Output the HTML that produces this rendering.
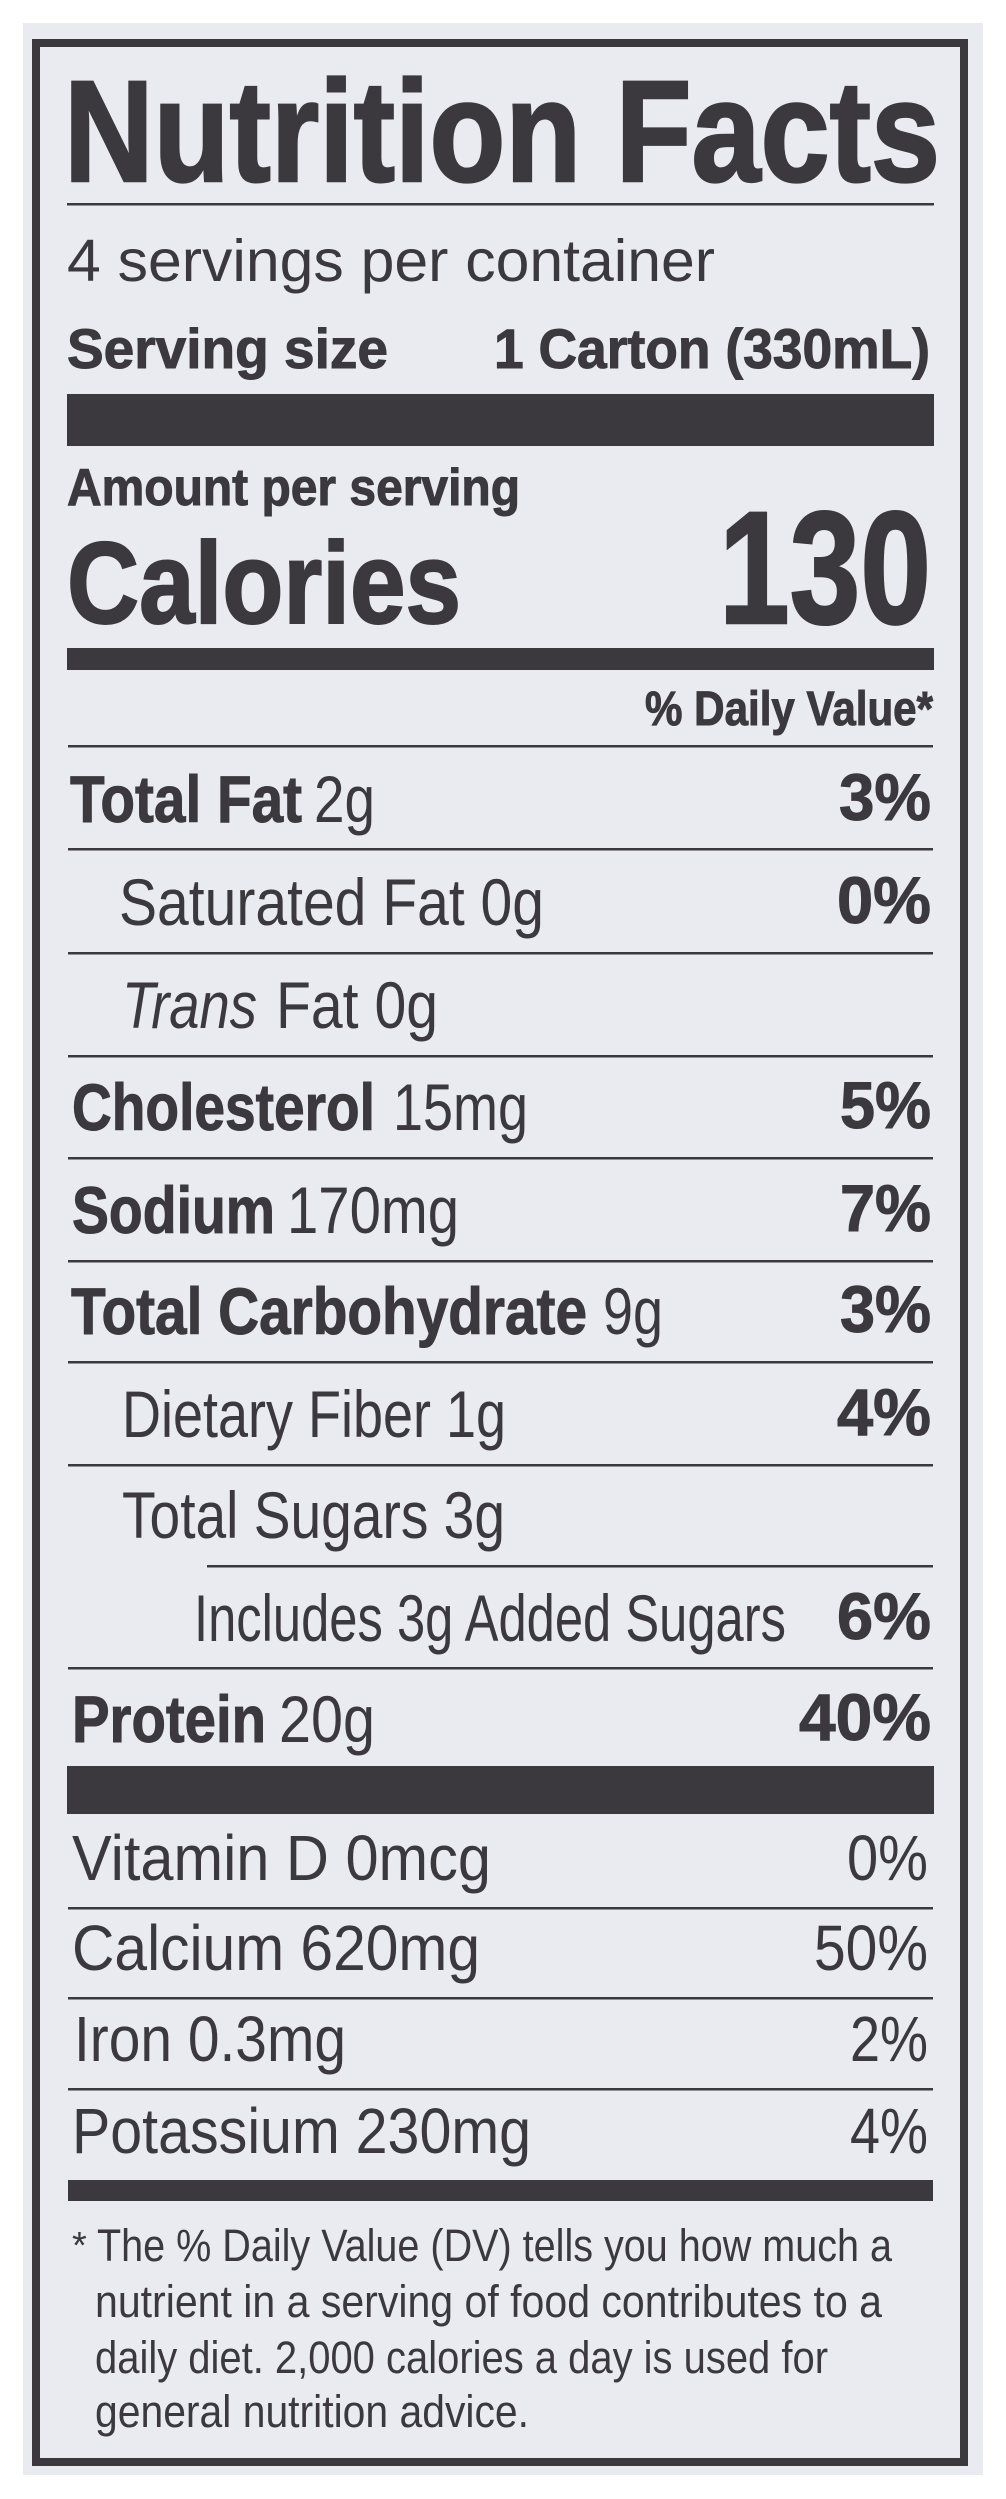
<!DOCTYPE html>
<html>
<head>
<meta charset="utf-8">
<style>
  html, body { margin: 0; padding: 0; background: #ffffff; }
  svg { display: block; }
  .b { font-family: "Liberation Sans", sans-serif; font-weight: bold; fill: #3b393d; stroke: #3b393d; stroke-width: 1; }
  .r { font-family: "Liberation Sans", sans-serif; font-weight: normal; fill: #3b393d; }
  .i { font-family: "Liberation Sans", sans-serif; font-weight: normal; font-style: italic; fill: #3b393d; }
</style>
</head>
<body>
<svg xmlns="http://www.w3.org/2000/svg" width="1006" height="2499" viewBox="0 0 1006 2499">
  <rect x="0" y="0" width="1006" height="2499" fill="#ffffff"/>
  <rect x="23" y="23" width="960" height="2452" fill="#e9ebf0"/>
  <g fill="#3b393d">
    <rect x="32" y="39" width="936" height="8"/>
    <rect x="32" y="2458" width="936" height="8"/>
    <rect x="32" y="39" width="8" height="2427"/>
    <rect x="960" y="39" width="8" height="2427"/>
  </g>

  <text class="b" x="64" y="181" font-size="144" textLength="876" lengthAdjust="spacingAndGlyphs" style="stroke-width:2.5">Nutrition Facts</text>
  <rect x="67" y="203" width="867" height="2.5" fill="#3b393d"/>

  <text class="r" x="67" y="281" font-size="59" textLength="648" lengthAdjust="spacingAndGlyphs">4 servings per container</text>
  <text class="b" x="67" y="368" font-size="56" textLength="321" lengthAdjust="spacingAndGlyphs">Serving size</text>
  <text class="b" x="494" y="368" font-size="56" textLength="436" lengthAdjust="spacingAndGlyphs">1 Carton (330mL)</text>

  <rect x="67" y="394" width="867" height="52" fill="#3b393d"/>

  <text class="b" x="67" y="505" font-size="52" textLength="453" lengthAdjust="spacingAndGlyphs">Amount per serving</text>
  <text class="b" x="67" y="623" font-size="116" textLength="394" lengthAdjust="spacingAndGlyphs" style="stroke-width:2">Calories</text>
  <text class="b" x="719" y="623" font-size="160" textLength="212" lengthAdjust="spacingAndGlyphs" style="stroke-width:2.5">130</text>

  <rect x="67" y="648" width="867" height="22" fill="#3b393d"/>

  <text class="b" x="645" y="725" font-size="48" textLength="288" lengthAdjust="spacingAndGlyphs">% Daily Value*</text>

  <g fill="#3b393d">
    <rect x="68" y="745" width="865" height="2.5"/>
    <rect x="68" y="848" width="865" height="2.5"/>
    <rect x="68" y="952" width="865" height="2.5"/>
    <rect x="68" y="1055" width="865" height="2.5"/>
    <rect x="68" y="1157" width="865" height="2.5"/>
    <rect x="68" y="1260" width="865" height="2.5"/>
    <rect x="68" y="1361" width="865" height="2.5"/>
    <rect x="68" y="1464" width="865" height="2.5"/>
    <rect x="207" y="1565" width="726" height="2.5"/>
    <rect x="68" y="1667" width="865" height="2.5"/>
  </g>

  <text class="b" x="70" y="822" font-size="66" textLength="232" lengthAdjust="spacingAndGlyphs">Total Fat</text>
  <text class="r" x="314" y="822" font-size="66" textLength="61" lengthAdjust="spacingAndGlyphs">2g</text>
  <text class="b" x="839" y="820" font-size="66" textLength="92" lengthAdjust="spacingAndGlyphs">3%</text>

  <text class="r" x="119" y="925" font-size="66" textLength="425" lengthAdjust="spacingAndGlyphs">Saturated Fat 0g</text>
  <text class="b" x="837" y="923" font-size="66" textLength="94" lengthAdjust="spacingAndGlyphs">0%</text>

  <text class="i" x="122" y="1028" font-size="66" textLength="135" lengthAdjust="spacingAndGlyphs">Trans</text>
  <text class="r" x="276" y="1028" font-size="66" textLength="162" lengthAdjust="spacingAndGlyphs">Fat 0g</text>

  <text class="b" x="72" y="1130" font-size="66" textLength="303" lengthAdjust="spacingAndGlyphs">Cholesterol</text>
  <text class="r" x="393" y="1130" font-size="66" textLength="135" lengthAdjust="spacingAndGlyphs">15mg</text>
  <text class="b" x="840" y="1128" font-size="66" textLength="91" lengthAdjust="spacingAndGlyphs">5%</text>

  <text class="b" x="72" y="1233" font-size="66" textLength="203" lengthAdjust="spacingAndGlyphs">Sodium</text>
  <text class="r" x="287" y="1233" font-size="66" textLength="172" lengthAdjust="spacingAndGlyphs">170mg</text>
  <text class="b" x="840" y="1231" font-size="66" textLength="91" lengthAdjust="spacingAndGlyphs">7%</text>

  <text class="b" x="71" y="1334" font-size="66" textLength="516" lengthAdjust="spacingAndGlyphs">Total Carbohydrate</text>
  <text class="r" x="603" y="1334" font-size="66" textLength="60" lengthAdjust="spacingAndGlyphs">9g</text>
  <text class="b" x="840" y="1332" font-size="66" textLength="91" lengthAdjust="spacingAndGlyphs">3%</text>

  <text class="r" x="122" y="1437" font-size="66" textLength="384" lengthAdjust="spacingAndGlyphs">Dietary Fiber 1g</text>
  <text class="b" x="837" y="1435" font-size="66" textLength="94" lengthAdjust="spacingAndGlyphs">4%</text>

  <text class="r" x="122" y="1538" font-size="66" textLength="383" lengthAdjust="spacingAndGlyphs">Total Sugars 3g</text>

  <text class="r" x="194" y="1641" font-size="66" textLength="592" lengthAdjust="spacingAndGlyphs">Includes 3g Added Sugars</text>
  <text class="b" x="837" y="1639" font-size="66" textLength="94" lengthAdjust="spacingAndGlyphs">6%</text>

  <text class="b" x="72" y="1742" font-size="66" textLength="194" lengthAdjust="spacingAndGlyphs">Protein</text>
  <text class="r" x="279" y="1742" font-size="66" textLength="96" lengthAdjust="spacingAndGlyphs">20g</text>
  <text class="b" x="799" y="1740" font-size="66" textLength="132" lengthAdjust="spacingAndGlyphs">40%</text>

  <rect x="67" y="1766" width="867" height="48" fill="#3b393d"/>

  <g fill="#3b393d">
    <rect x="68" y="1907" width="865" height="2.5"/>
    <rect x="68" y="1997" width="865" height="2.5"/>
    <rect x="68" y="2088" width="865" height="2.5"/>
  </g>
  <text class="r" x="72" y="1880" font-size="64" textLength="419" lengthAdjust="spacingAndGlyphs">Vitamin D 0mcg</text>
  <text class="r" x="847" y="1880" font-size="64" textLength="81" lengthAdjust="spacingAndGlyphs">0%</text>

  <text class="r" x="72" y="1970" font-size="64" textLength="408" lengthAdjust="spacingAndGlyphs">Calcium 620mg</text>
  <text class="r" x="814" y="1970" font-size="64" textLength="114" lengthAdjust="spacingAndGlyphs">50%</text>

  <text class="r" x="74" y="2061" font-size="64" textLength="272" lengthAdjust="spacingAndGlyphs">Iron 0.3mg</text>
  <text class="r" x="850" y="2061" font-size="64" textLength="78" lengthAdjust="spacingAndGlyphs">2%</text>

  <text class="r" x="72" y="2153" font-size="64" textLength="459" lengthAdjust="spacingAndGlyphs">Potassium 230mg</text>
  <text class="r" x="850" y="2153" font-size="64" textLength="78" lengthAdjust="spacingAndGlyphs">4%</text>

  <rect x="68" y="2180" width="865" height="21" fill="#3b393d"/>

  <text class="r" x="72" y="2258" font-size="38">*</text>
  <text class="r" x="97" y="2261" font-size="45" textLength="795" lengthAdjust="spacingAndGlyphs">The % Daily Value (DV) tells you how much a</text>
  <text class="r" x="95" y="2317" font-size="45" textLength="787" lengthAdjust="spacingAndGlyphs">nutrient in a serving of food contributes to a</text>
  <text class="r" x="95" y="2373" font-size="45" textLength="733" lengthAdjust="spacingAndGlyphs">daily diet. 2,000 calories a day is used for</text>
  <text class="r" x="95" y="2427" font-size="45" textLength="434" lengthAdjust="spacingAndGlyphs">general nutrition advice.</text>
</svg>
</body>
</html>
